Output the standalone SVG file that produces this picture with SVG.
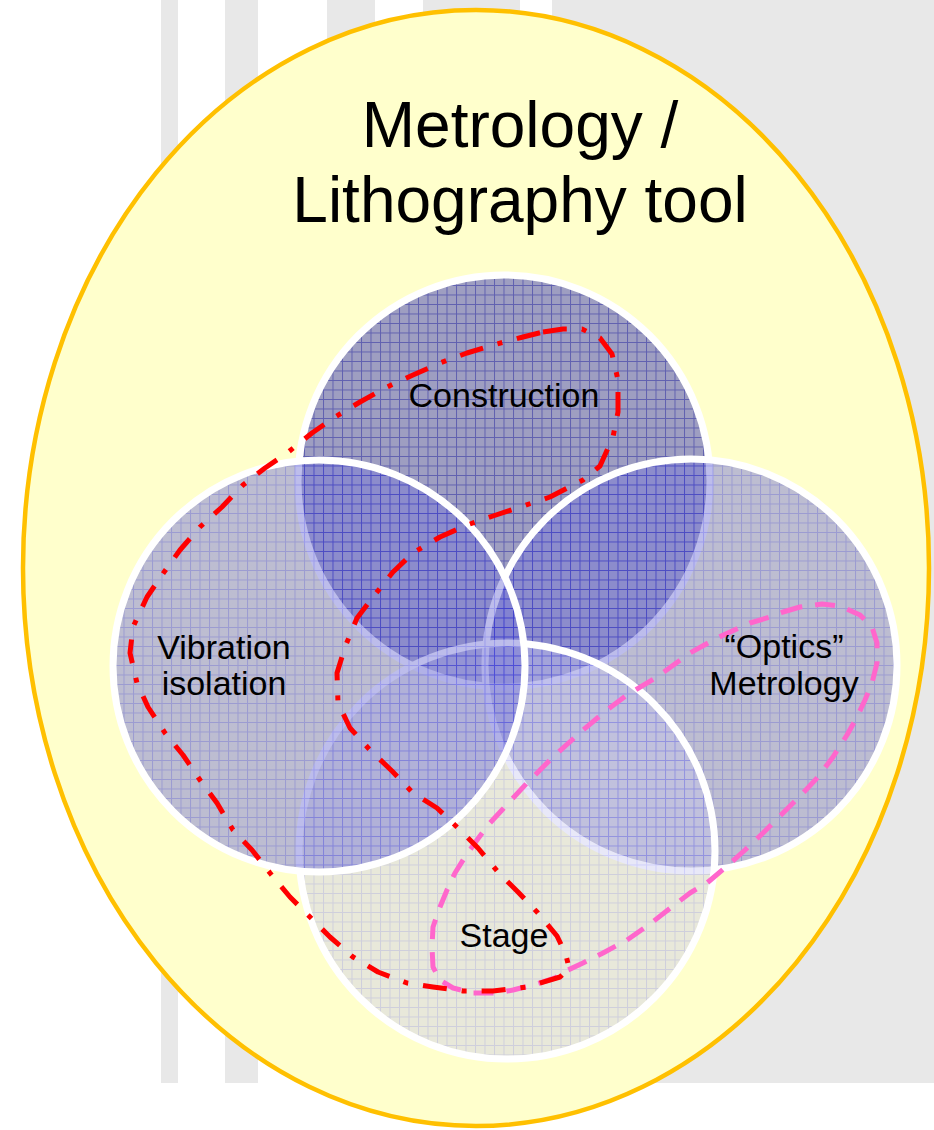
<svg xmlns="http://www.w3.org/2000/svg" width="934" height="1130" viewBox="0 0 934 1130">
<style>
.lbl{font-family:"Liberation Sans",Arial,sans-serif;fill:#000;text-anchor:middle}
.ring{fill:none;stroke:#fff;stroke-width:7}
.stripe{fill:#e8e8e8}
</style>
<defs>
<pattern id="gC" width="9.5" height="9.5" patternUnits="userSpaceOnUse"><rect width="9.5" height="9.5" fill="#7575bc"/><path d="M0 0.5H9.5M0.5 0V9.5" stroke="#1c1ca4" stroke-width="1"/></pattern>
<pattern id="gV" width="9.5" height="9.5" patternUnits="userSpaceOnUse"><rect width="9.5" height="9.5" fill="#7a7ad6"/><path d="M0 0.5H9.5M0.5 0V9.5" stroke="#3838d6" stroke-width="1"/></pattern>
<pattern id="gS" width="9.5" height="9.5" patternUnits="userSpaceOnUse"><rect width="9.5" height="9.5" fill="#c6c6ee"/><path d="M0 0.5H9.5M0.5 0V9.5" stroke="#8686f4" stroke-width="1"/></pattern>
</defs>
<rect width="934" height="1130" fill="#fff"/>
<g id="background">
<rect class="stripe" x="161" y="0" width="17" height="1083"/>
<rect class="stripe" x="225" y="0" width="33" height="1083"/>
<rect class="stripe" x="327" y="0" width="48" height="1083"/>
<rect class="stripe" x="423" y="0" width="97" height="1083"/>
<rect class="stripe" x="552" y="0" width="382" height="1083"/>
</g>
<g id="tool">
<ellipse cx="476" cy="568" rx="453" ry="558" fill="#ffffcc" stroke="#ffc000" stroke-width="4.5"/>
<text class="lbl" x="520" y="147" font-size="64">Metrology /</text>
<text class="lbl" x="520" y="222" font-size="64">Lithography tool</text>
</g>
<g id="construction">
<circle cx="504" cy="481" r="206" fill="url(#gC)" opacity="0.7"/>
<circle class="ring" cx="504" cy="481" r="206"/>
</g>
<g id="optics">
<circle cx="691" cy="665" r="206" fill="url(#gV)" opacity="0.5"/>
<circle class="ring" cx="691" cy="665" r="206"/>
</g>
<g id="stage">
<circle cx="507" cy="851" r="208" fill="url(#gS)" opacity="0.4"/>
<circle class="ring" cx="507" cy="851" r="208"/>
</g>
<g id="vibration">
<circle cx="319" cy="666" r="206" fill="url(#gV)" opacity="0.5"/>
<circle class="ring" cx="319" cy="666" r="206"/>
</g>
<g id="connectors" fill="none" stroke-width="5" stroke-linejoin="round">
<path id="pink-loop" stroke="#ff66cc" stroke-dasharray="20 13" d="M783 612 L800 607 822 604 840 606 860 615 872 627 877 643 877 663 872 683 865 700 857 717 847 735 833 757 818 777 803 793 783 813 763 833 745 850 727 866 707 883 690 893 673 906 650 924 627 940 603 953 583 963 568 970 555 978 533 985 513 990 497 993 473 993 453 988 440 980 433 967 432 947 433 927 440 907 447 890 455 873 465 857 477 840 489 824 502 810 527 783 553 757 583 730 607 710 627 695 657 677 690 653 717 638 750 623 770 617 Z"/>
<path id="red-loop" stroke="#ff0000" stroke-dasharray="24 15 5 15" d="M543 332 L563 329 582 329 600 338 612 354 618 380 618 412 613 437 600 466 583 480 550 497 520 507 493 516 467 525 440 537 413 553 393 572 373 597 357 618 345 647 337 673 338 703 350 728 370 750 392 771 413 793 437 808 458 828 478 848 498 872 518 892 538 913 557 936 566 955 569 968 560 977 527 987 493 991 463 991 433 987 407 983 378 972 353 957 330 937 310 917 290 897 270 873 252 850 233 830 217 803 200 780 183 755 165 733 148 707 137 683 130 653 133 627 147 597 162 575 180 550 200 527 222 507 243 485 265 468 287 453 312 433 335 417 360 402 387 387 413 375 440 363 467 353 493 345 523 337 Z"/>
</g>
<g id="labels">
<text class="lbl" x="504" y="407" font-size="34">Construction</text>
<text class="lbl" x="224" y="659" font-size="34">Vibration</text>
<text class="lbl" x="224" y="695" font-size="34">isolation</text>
<text class="lbl" x="784" y="658" font-size="34">“Optics”</text>
<text class="lbl" x="784" y="695" font-size="34">Metrology</text>
<text class="lbl" x="504" y="947" font-size="34">Stage</text>
</g>
</svg>
